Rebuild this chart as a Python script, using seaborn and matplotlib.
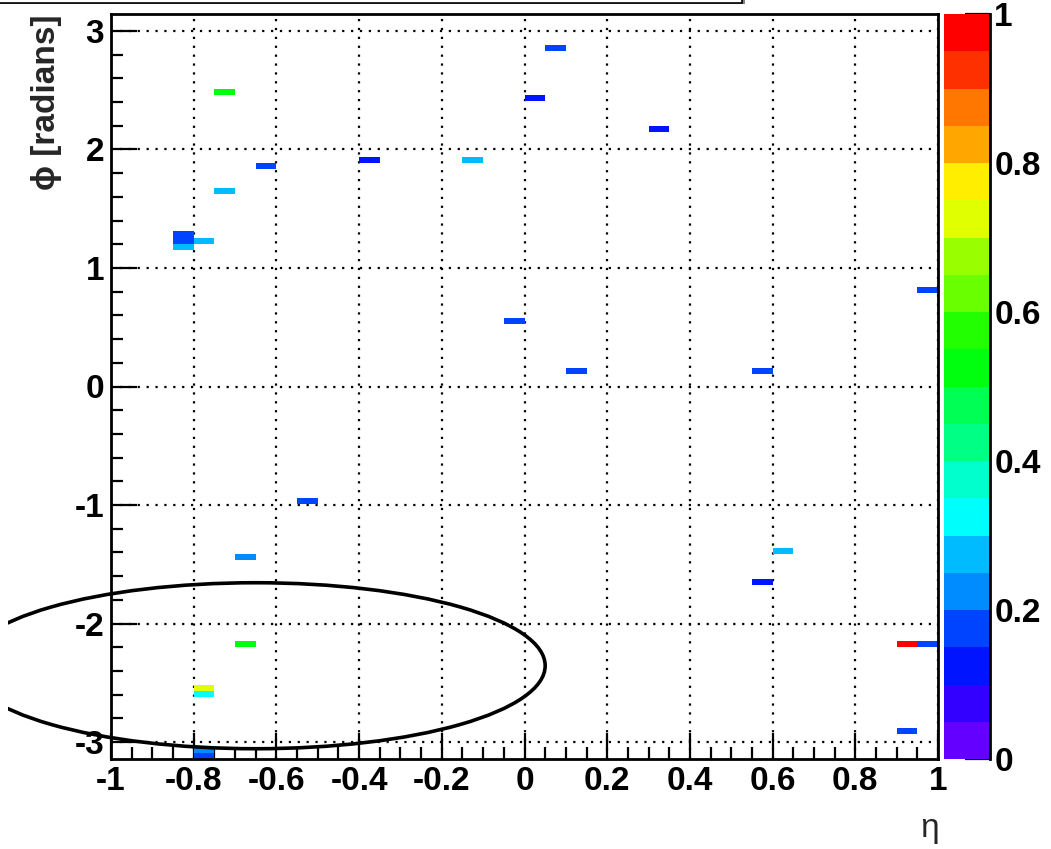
import colorsys

import numpy as np
import pandas as pd
import matplotlib
matplotlib.use("Agg")
import matplotlib.pyplot as plt
from matplotlib.colors import ListedColormap
from matplotlib.patches import Ellipse, Rectangle
from matplotlib.transforms import Bbox, IdentityTransform
from matplotlib.ticker import FixedLocator, FixedFormatter, MultipleLocator
import seaborn as sns

# Calorimeter towers: centre in (eta, phi) and normalised energy
cell_eta = [0.075, 0.025, 0.325, -0.375, -0.125, -0.725, -0.625, -0.725,
            -0.825, -0.825, -0.825, -0.775, 0.975, -0.025, 0.125, 0.575,
            -0.525, -0.675, 0.625, 0.575, -0.675, -0.775, -0.775, -0.775,
            -0.775, 0.925, 0.975, 0.925]
cell_phi = [2.85, 2.43, 2.17, 1.91, 1.91, 2.49, 1.86, 1.65,
            1.28, 1.23, 1.18, 1.23, 0.81, 0.55, 0.13, 0.13,
            -0.97, -1.44, -1.39, -1.65, -2.17, -2.54, -2.59, -3.06,
            -3.12, -2.17, -2.17, -2.91]
cell_energy = [0.17, 0.12, 0.12, 0.12, 0.27, 0.52, 0.17, 0.27,
               0.17, 0.17, 0.27, 0.27, 0.17, 0.17, 0.17, 0.17,
               0.17, 0.22, 0.27, 0.12, 0.52, 0.72, 0.32, 0.22,
               0.17, 0.97, 0.17, 0.17]

eta_ticks = [-1, -0.8, -0.6, -0.4, -0.2, 0, 0.2, 0.4, 0.6, 0.8, 1]
eta_tick_labels = ["-1", "-0.8", "-0.6", "-0.4", "-0.2", "0", "0.2", "0.4", "0.6", "0.8", "1"]
phi_ticks = [-3, -2, -1, 0, 1, 2, 3]
phi_tick_labels = ["-3", "-2", "-1", "0", "1", "2", "3"]
z_ticks = [0, 0.2, 0.4, 0.6, 0.8, 1]
z_tick_labels = ["0", "0.2", "0.4", "0.6", "0.8", "1"]

# Jet cone outline
cone_eta, cone_phi, cone_radius = -0.65, -2.355, 0.70

n_eta_bins, n_phi_bins = 40, 120
n_levels = 20


def pretty_palette(levels, n_colors=50):
    """Violet -> red HLS spectrum, sampled into discrete contour levels."""
    base = []
    for i in range(n_colors - 1):
        hue = 280.0 - (i + 1) * 280.0 / n_colors
        base.append(colorsys.hls_to_rgb(hue / 360.0, 0.5, 1.0))
    base.append((1.0, 0.0, 0.0))
    return [base[int((k + 0.99) * n_colors / levels)] for k in range(levels)]


sns.set_theme(style="white")
plt.rcParams["font.family"] = ["Liberation Sans", "DejaVu Sans"]
plt.rcParams["font.weight"] = "bold"
plt.rcParams["axes.edgecolor"] = "black"

W, H = 1051, 849
fig = plt.figure(figsize=(W / 100, H / 100), dpi=100)
ax = fig.add_axes([111 / W, 90 / H, 827 / W, 745 / H])
cax = fig.add_axes([944 / W, 90 / H, 46 / W, 745 / H])

df = pd.DataFrame({"eta": cell_eta, "phi": cell_phi, "energy": cell_energy})
eta_edges = np.linspace(-1, 1, n_eta_bins + 1)
phi_edges = np.linspace(-np.pi, np.pi, n_phi_bins + 1)
cmap = ListedColormap(pretty_palette(n_levels))

sns.histplot(data=df, x="eta", y="phi", weights="energy",
             bins=[eta_edges, phi_edges], cmap=cmap, vmin=0, vmax=1,
             cbar=True, cbar_ax=cax, ax=ax)

ax.set_xlim(-1, 1)
ax.set_ylim(-np.pi, np.pi)
ax.set_axisbelow(True)

# axes ticks
ax.xaxis.set_major_locator(FixedLocator(eta_ticks))
ax.xaxis.set_major_formatter(FixedFormatter(eta_tick_labels))
ax.yaxis.set_major_locator(FixedLocator(phi_ticks))
ax.yaxis.set_major_formatter(FixedFormatter(phi_tick_labels))
ax.xaxis.set_minor_locator(MultipleLocator(0.05))
ax.yaxis.set_minor_locator(MultipleLocator(0.2))
ax.tick_params(axis="both", which="both", direction="in", colors="black",
               left=True, bottom=True, right=False, top=False)
ax.tick_params(axis="both", which="major", length=18.5, width=1.6, labelsize=24)
ax.tick_params(axis="both", which="minor", length=8.5, width=1.6)
ax.tick_params(axis="x", which="major", pad=5)
ax.tick_params(axis="y", which="major", pad=5)
for lab in ax.get_xticklabels() + ax.get_yticklabels():
    lab.set_fontweight("bold")

for spine in ax.spines.values():
    spine.set_visible(True)
    spine.set_color("black")
    spine.set_linewidth(2.0)

ax.grid(True, which="major", color="black", linestyle=(0, (1.0, 3.0)), linewidth=1.6)

# labels
ax.set_xlabel("η", fontsize=24, fontweight="normal")
ax.xaxis.set_label_coords((930 - 111) / 827, -(828 - 759) / 745)
ax.xaxis.label.set_va("center")
ax.set_ylabel("ϕ [radians]", fontsize=24, fontweight="bold", loc="top")
ax.yaxis.set_label_coords((62 - 111) / 827, 1.0)

# jet cone, cut at the left edge of the pad
cone = Ellipse((cone_eta, cone_phi), 2 * cone_radius, 2 * cone_radius,
               fill=False, edgecolor="black", linewidth=2.6, zorder=5)
ax.add_patch(cone)
cone.set_clip_on(True)
cone.set_clip_box(Bbox([[8, 0], [W, H]]))

# colour scale
cbar = ax.collections[0].colorbar
cbar.outline.set_visible(False)
cax.spines["right"].set_visible(True)
cax.spines["right"].set_color("black")
cax.spines["right"].set_linewidth(2.0)
cax.yaxis.set_major_locator(FixedLocator(z_ticks))
cax.yaxis.set_major_formatter(FixedFormatter(z_tick_labels))
cax.yaxis.set_minor_locator(FixedLocator([]))
cax.tick_params(axis="y", which="major", direction="in", length=18, width=1.6,
                labelsize=24, pad=3, colors="black", right=True, left=False)
for lab in cax.get_yticklabels():
    lab.set_fontweight("bold")

# title pave (only its lower edge falls inside the canvas)
shadow = Rectangle((-5, H - 4), 750, 60, facecolor="#808080", edgecolor="none", zorder=0)
pave = Rectangle((-10, H - 2.5), 752, 60, facecolor="white", edgecolor="black",
                 linewidth=1.2, zorder=1)
for p in (shadow, pave):
    p.set_transform(IdentityTransform())
    fig.patches.append(p)

fig.savefig("out.png", dpi=100, facecolor="white")
